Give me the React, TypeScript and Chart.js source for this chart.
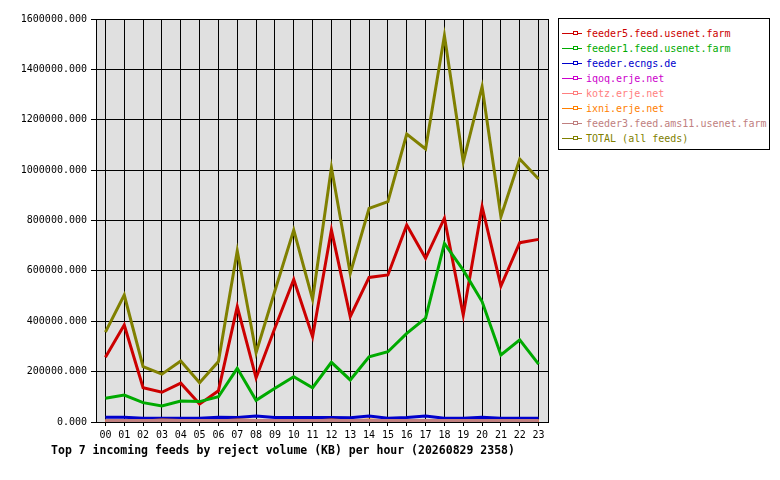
import { useEffect, useRef } from "react";
import { Chart, Plugin, registerables } from "chart.js";

// Register Chart.js components
Chart.register(...registerables);

const MONO = "'DejaVu Sans Mono', 'Liberation Mono', monospace";

const hours = [
    "00", "01", "02", "03", "04", "05", "06", "07", "08", "09", "10", "11",
    "12", "13", "14", "15", "16", "17", "18", "19", "20", "21", "22", "23",
];

const feeder5 = [
    257000, 385000, 136000, 118000, 154000, 71000, 124000, 458000, 175000, 373000, 566000, 339000,
    762000, 418000, 574000, 584000, 782000, 650000, 809000, 425000, 855000, 540000, 712000, 725000,
];
const feeder1 = [
    94000, 107000, 77000, 64000, 83000, 81000, 100000, 213000, 86000, 134000, 180000, 136000,
    237000, 167000, 259000, 279000, 352000, 412000, 709000, 603000, 478000, 266000, 326000, 230000,
];
const ecngs = [
    19000, 19000, 15000, 15000, 15000, 15000, 19000, 18000, 24000, 18000, 18000, 18000,
    18000, 17000, 24000, 15000, 18000, 24000, 15000, 15000, 19000, 15000, 15000, 15000,
];
const iqoq = [
    2000, 2000, 2000, 2000, 2000, 2000, 2000, 2000, 2000, 2000, 2000, 2000,
    2000, 2000, 2000, 2000, 2000, 2000, 2000, 2000, 2000, 2000, 2000, 2000,
];
const kotz = [
    3000, 3000, 3000, 3000, 3000, 3000, 3000, 3000, 3000, 3000, 3000, 3000,
    3000, 3000, 3000, 3000, 3000, 3000, 3000, 3000, 3000, 3000, 3000, 3000,
];
const ixni = [
    4000, 4000, 4000, 8000, 6000, 4000, 4000, 8000, 6000, 4000, 4000, 4000,
    8000, 4000, 8000, 4000, 4000, 4000, 4000, 4000, 4000, 4000, 4000, 4000,
];
const feeder3 = [
    6000, 6000, 6000, 6000, 6000, 6000, 6000, 6000, 6000, 6000, 6000, 6000,
    6000, 6000, 6000, 6000, 6000, 6000, 6000, 6000, 6000, 6000, 6000, 6000,
];
const total = [
    357000, 504000, 220000, 190000, 242000, 156000, 240000, 680000, 275000, 521000, 762000, 487000,
    1010000, 590000, 848000, 875000, 1143000, 1084000, 1534000, 1033000, 1331000, 815000, 1044000, 965000,
];

const seriesNames = [
    "feeder5.feed.usenet.farm",
    "feeder1.feed.usenet.farm",
    "feeder.ecngs.de",
    "iqoq.erje.net",
    "kotz.erje.net",
    "ixni.erje.net",
    "feeder3.feed.ams11.usenet.farm",
    "TOTAL (all feeds)",
];
const seriesData = [feeder5, feeder1, ecngs, iqoq, kotz, ixni, feeder3, total];
const seriesColors = ["#cc0000", "#00aa00", "#0000cc", "#cc00cc", "#ff8080", "#ff8000", "#c08080", "#808000"];

const yTicks = { min: 0, max: 1600000, step: 200000 };

const titleText = "Top 7 incoming feeds by reject volume (KB) per hour (20260829 2358)";

// grey plot area and black frame around it
const plotFrame: Plugin = {
    id: "plotFrame",
    beforeDraw(chart) {
        const { ctx, chartArea: a } = chart;
        ctx.save();
        ctx.fillStyle = "#e0e0e0";
        ctx.fillRect(a.left, a.top, a.right - a.left, a.bottom - a.top);
        ctx.restore();
    },
    afterDraw(chart) {
        const { ctx, chartArea: a } = chart;
        ctx.save();
        ctx.strokeStyle = "#000";
        ctx.lineWidth = 1;
        ctx.strokeRect(Math.round(a.left) + 0.5, Math.round(a.top) + 0.5, Math.round(a.right - a.left), Math.round(a.bottom - a.top));
        ctx.restore();
    },
};

export default function App() {
    const canvasRef = useRef<HTMLCanvasElement | null>(null);

    useEffect(() => {
        const canvas = canvasRef.current;
        if (!canvas) return;
        const chart = new Chart(canvas, {
            type: "line",
            data: {
                labels: hours,
                datasets: seriesData.map((data, i) => ({
                    label: seriesNames[i],
                    data,
                    borderColor: seriesColors[i],
                    backgroundColor: seriesColors[i],
                    borderWidth: 3,
                    pointRadius: 0,
                    tension: 0,
                    fill: false,
                    order: seriesData.length - i,
                })),
            },
            options: {
                responsive: false,
                animation: false,
                devicePixelRatio: 1,
                layout: { padding: { left: 18, right: 232, top: 19, bottom: 0 } },
                plugins: {
                    legend: { display: false },
                    tooltip: { enabled: false },
                    title: {
                        display: true,
                        position: "bottom",
                        text: titleText,
                        color: "#000",
                        font: { family: MONO, size: 11.5, weight: "bold" },
                        padding: { top: 4, bottom: 22 },
                    },
                },
                scales: {
                    x: {
                        offset: true,
                        grid: { color: "#000", lineWidth: 1, tickLength: 4, offset: false },
                        border: { display: false },
                        ticks: { color: "#000", font: { family: MONO, size: 10 }, padding: 3, maxRotation: 0, autoSkip: false },
                        afterFit: (scale) => {
                            scale.height = 18.2;
                        },
                    },
                    y: {
                        min: yTicks.min,
                        max: yTicks.max,
                        grid: { color: "#000", lineWidth: 1, tickLength: 5 },
                        border: { display: false },
                        ticks: {
                            stepSize: yTicks.step,
                            color: "#000",
                            font: { family: MONO, size: 10 },
                            padding: 4,
                            callback: (v) => Number(v).toFixed(3),
                        },
                        afterFit: (scale) => {
                            scale.width = 78;
                        },
                    },
                },
            },
            plugins: [plotFrame],
        });
        return () => chart.destroy();
    }, []);

    return (
        <div style={{ position: "absolute", left: 0, top: 0, width: 780, height: 480, background: "#fff" }}>
            <canvas ref={canvasRef} width={780} height={480} style={{ width: 780, height: 480 }} />
            <div
                style={{
                    position: "absolute",
                    left: 558,
                    top: 18,
                    width: 212,
                    height: 132,
                    boxSizing: "border-box",
                    border: "1px solid #000",
                    background: "#fff",
                    paddingTop: 7,
                    fontFamily: MONO,
                    fontSize: 10,
                }}
            >
                {seriesNames.map((name, i) => (
                    <div key={name} style={{ position: "relative", height: 15, lineHeight: "15px", color: seriesColors[i], whiteSpace: "nowrap" }}>
                        <span style={{ position: "absolute", left: 3, top: 7, width: 20, height: 1, background: seriesColors[i] }} />
                        <span
                            style={{
                                position: "absolute",
                                left: 14,
                                top: 5,
                                width: 3,
                                height: 2,
                                border: `1px solid ${seriesColors[i]}`,
                                background: "#fff",
                            }}
                        />
                        <span style={{ position: "absolute", left: 27, top: 0 }}>{name}</span>
                    </div>
                ))}
            </div>
        </div>
    );
}
